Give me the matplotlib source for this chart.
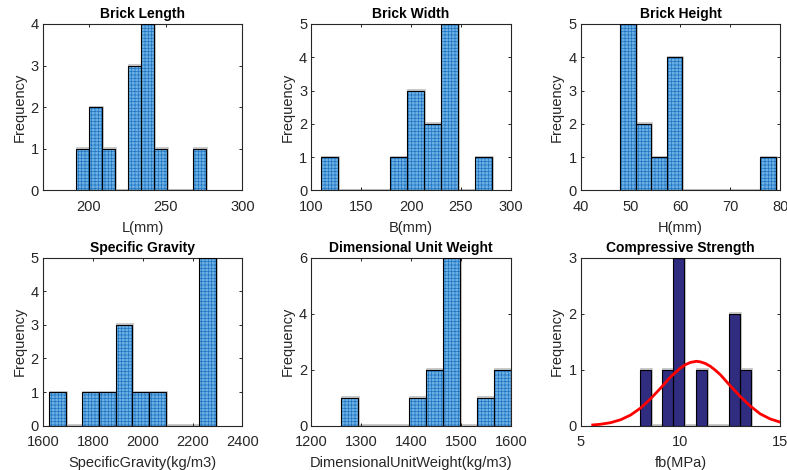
import numpy as np
import matplotlib
matplotlib.use('Agg')
import matplotlib.pyplot as plt
import matplotlib.transforms as mtransforms

plt.rcParams['font.family'] = ['Liberation Sans', 'DejaVu Sans']
plt.rcParams['hatch.linewidth'] = 0.5

# counts of the 10 equal bins between data min and max
length_counts = [1, 2, 1, 0, 3, 4, 1, 0, 0, 1]
length_range = (191.7, 276.5)
width_counts = [1, 0, 0, 0, 1, 3, 2, 5, 0, 1]
width_range = (110.0, 281.2)
height_counts = [5, 2, 1, 4, 0, 0, 0, 0, 0, 1]
height_range = (47.9, 79.1)
sg_counts = [1, 0, 1, 1, 3, 1, 1, 0, 0, 5]
sg_range = (1624, 2292)
duw_counts = [1, 0, 0, 0, 1, 2, 6, 0, 1, 2]
duw_range = (1260, 1600)
fb_counts = [1, 0, 1, 3, 0, 1, 0, 0, 2, 1]
fb_range = (7.98, 13.53)

# normal fit curve
fit_x = [5.6, 6.0, 6.5, 7.0, 7.5, 8.0, 8.5, 9.0, 9.5, 9.75, 10.0, 10.25, 10.5,
         10.8, 11.0, 11.25, 11.5, 11.75, 12.0, 12.5, 13.0, 13.5, 14.0, 14.5, 15.0]
fit_y = [0.013, 0.026, 0.054, 0.106, 0.19, 0.315, 0.48, 0.67, 0.87, 0.95, 1.03,
         1.09, 1.13, 1.15, 1.14, 1.11, 1.06, 0.99, 0.91, 0.71, 0.52, 0.35, 0.21,
         0.12, 0.063]

BLUE_FACE = '#6CB0E4'
BLUE_HATCH = '#2074C2'
NAVY = '#302C80'
TXT = '#262626'


def draw_hist(ax, counts, rng, face, hatch=None):
    edges = np.linspace(rng[0], rng[1], len(counts) + 1)
    left = edges[:-1]
    w = np.diff(edges)
    # light grey shadow like the matlab render
    shadow = mtransforms.offset_copy(ax.transData, fig=ax.figure, x=1, y=0.5, units='dots')
    ax.bar(left, counts, width=w, align='edge', facecolor='none',
           edgecolor='#c0c0c0', linewidth=1.2, transform=shadow, zorder=1)
    if hatch:
        ax.bar(left, counts, width=w, align='edge', facecolor=face,
               edgecolor=BLUE_HATCH, linewidth=0, hatch=hatch, zorder=2)
    else:
        ax.bar(left, counts, width=w, align='edge', facecolor=face,
               linewidth=0, zorder=2)
    ax.bar(left, counts, width=w, align='edge', facecolor='none',
           edgecolor='black', linewidth=0.8, zorder=3)


panels = [
    ('Brick Length', 'L(mm)', length_counts, length_range, (170, 300), [200, 250, 300], (0, 4), [0, 1, 2, 3, 4]),
    ('Brick Width', 'B(mm)', width_counts, width_range, (100, 300), [100, 150, 200, 250, 300], (0, 5), [0, 1, 2, 3, 4, 5]),
    ('Brick Height', 'H(mm)', height_counts, height_range, (40, 80), [40, 50, 60, 70, 80], (0, 5), [0, 1, 2, 3, 4, 5]),
    ('Specific Gravity', 'SpecificGravity(kg/m3)', sg_counts, sg_range, (1600, 2400), [1600, 1800, 2000, 2200, 2400], (0, 5), [0, 1, 2, 3, 4, 5]),
    ('Dimensional Unit Weight', 'DimensionalUnitWeight(kg/m3)', duw_counts, duw_range, (1200, 1600), [1200, 1300, 1400, 1500, 1600], (0, 6), [0, 2, 4, 6]),
    ('Compressive Strength', 'fb(MPa)', fb_counts, fb_range, (5, 15), [5, 10, 15], (0, 3), [0, 1, 2, 3]),
]

fig = plt.figure(figsize=(7.87, 4.70), dpi=100)
lefts = [0.0546, 0.3956, 0.7379]
bottoms = [0.5947, 0.0943]
heights = [0.3543, 0.3574]

for i, (title, xlabel, counts, rng, xlim, xticks, ylim, yticks) in enumerate(panels):
    r, c = divmod(i, 3)
    ax = fig.add_axes([lefts[c], bottoms[r], 0.2535, heights[r]])
    if i == 5:
        draw_hist(ax, counts, rng, NAVY)
        ax.plot(fit_x, fit_y, color='red', linewidth=2, zorder=4)
    else:
        draw_hist(ax, counts, rng, BLUE_FACE, hatch='+++++')
    ax.set_xlim(*xlim)
    ax.set_ylim(*ylim)
    ax.set_xticks(xticks)
    ax.set_yticks(yticks)
    ax.tick_params(direction='in', length=2.2, width=0.7, top=True, right=True,
                   labelsize=10.5, colors=TXT)
    ax.tick_params(axis='x', pad=7)
    ax.tick_params(axis='y', pad=3)
    for s in ax.spines.values():
        s.set_linewidth(0.8)
        s.set_color(TXT)
    ax.set_title(title, fontsize=10, fontweight='bold', pad=4)
    ax.set_xlabel(xlabel, fontsize=10.5, color=TXT, labelpad=5)
    ax.set_ylabel('Frequency', fontsize=10.5, color=TXT, labelpad=3)

fig.savefig('out.png', dpi=100)
